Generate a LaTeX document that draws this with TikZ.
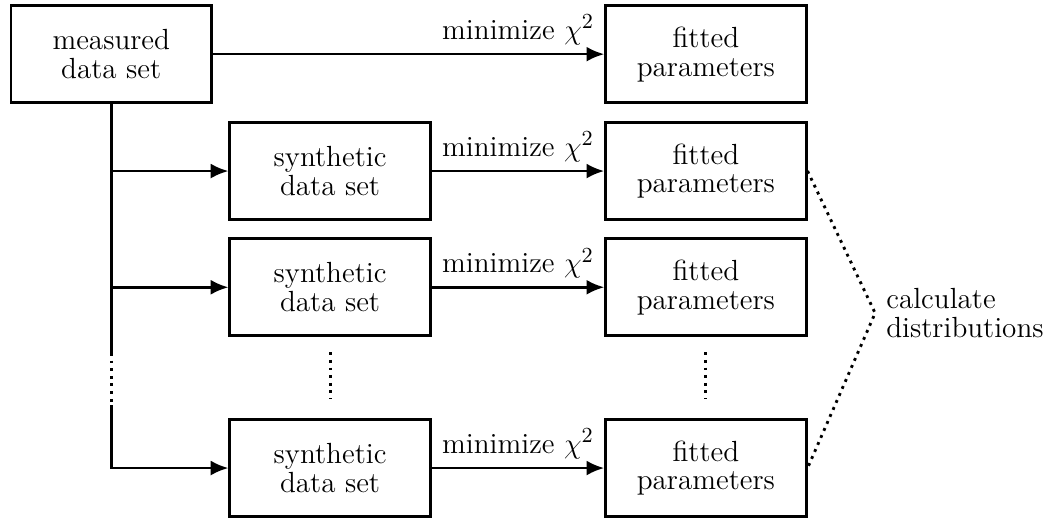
\documentclass[tikz,border=0pt]{standalone}
\usepackage{amsmath}
\usepackage{amssymb}
\usepackage{tikz}
\usetikzlibrary{calc}
\usetikzlibrary{positioning}
\usetikzlibrary{arrows.meta}

\begin{document}
\begin{tikzpicture}[
  font=\fontsize{12.2pt}{12.1pt}\selectfont,
  databox/.style={draw, line width=1.2pt, minimum width=2.95cm, minimum height=1.43cm, align=center},
  flow/.style={line width=1.1pt, -{Latex[length=2.6mm,width=2.2mm]}},
  gapline/.style={line width=1.2pt, dotted}
]
\draw[opacity=0] (0,0) rectangle (15.51,-7.69);


\node[databox] (measured) at (1.63,-0.79) {measured\\data set};
\node[databox] (fittedTop) at (10.38,-0.79) {fitted\\parameters};

\node[databox] (synthA) at (4.85,-2.51) {synthetic\\data set};
\node[databox] (synthB) at (4.85,-4.22) {synthetic\\data set};
\node[databox] (synthC) at (4.85,-6.88) {synthetic\\data set};

\node[databox] (fittedA) at (10.38,-2.51) {fitted\\parameters};
\node[databox] (fittedB) at (10.38,-4.22) {fitted\\parameters};
\node[databox] (fittedC) at (10.38,-6.88) {fitted\\parameters};

\coordinate (split) at (12.87,-4.60);
\node[right, align=left, inner sep=4.5pt] (calc) at (split) {calculate\\distributions};

\draw[flow] (measured) -- node[above, pos=0.78] {minimize $\chi^2$} (fittedTop);
\draw[flow] (synthA) -- node[above] {minimize $\chi^2$} (fittedA);
\draw[flow] (synthB) -- node[above] {minimize $\chi^2$} (fittedB);
\draw[flow] (synthC) -- node[above] {minimize $\chi^2$} (fittedC);

\coordinate (trunkEnd) at ($(measured.south)+(0,-3.66)$);
\coordinate (trunkGo) at ($(measured.south)+(0,-4.43)$);
\draw[line width=1.1pt] (measured.south) -- (trunkEnd);
\draw[gapline] (trunkEnd) -- (trunkGo);
\draw[flow] (trunkGo) |- (synthC.west);
\draw[flow] (measured.south |- synthA.west) -- (synthA.west);
\draw[flow] (measured.south |- synthB.west) -- (synthB.west);

\draw[gapline] ($(synthB.south)+(0,-0.22)$) -- ($(synthC.north)+(0,0.29)$);
\draw[gapline] ($(fittedB.south)+(0,-0.22)$) -- ($(fittedC.north)+(0,0.29)$);

\draw[gapline] (fittedA.east) -- (split) -- (fittedC.east);

\end{tikzpicture}
\end{document}
